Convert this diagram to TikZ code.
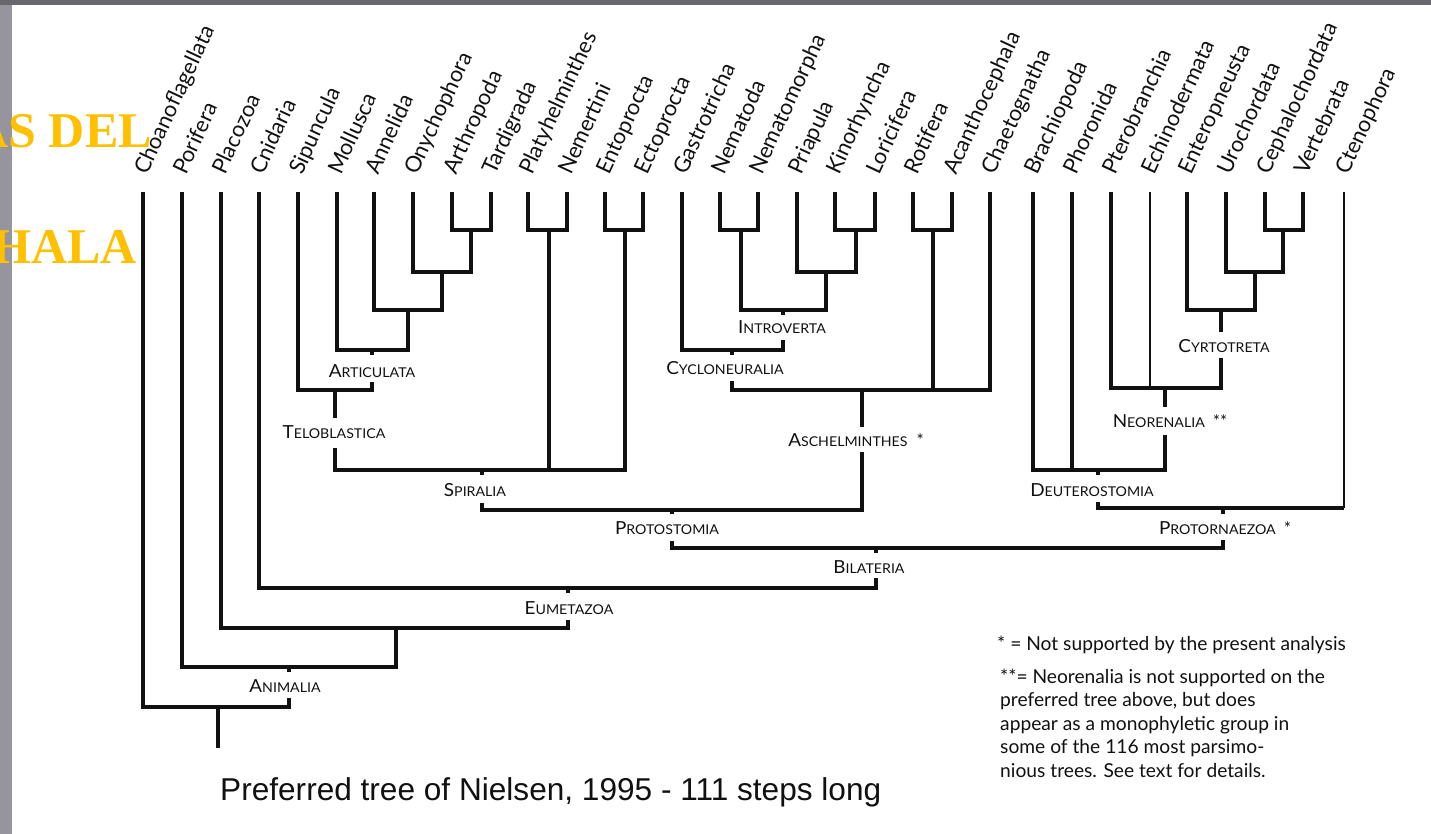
\documentclass[tikz,border=0pt]{standalone}
\usepackage{fontspec}
\setmainfont{Lato}
\newfontfamily\capfont{Liberation Sans}
\newfontfamily\ornfont{Liberation Serif}
\usepackage{graphicx}
\definecolor{gold}{RGB}{255,192,0}
\definecolor{framegray}{RGB}{150,148,156}
\definecolor{topgray}{RGB}{105,103,110}
\definecolor{ink}{RGB}{17,17,17}
\newcommand{\SCL}[2]{\scalebox{1.05}[1]{{\fontsize{18}{18}\selectfont #1}{\fontsize{13.5}{13.5}\selectfont #2}}}
\tikzset{
  br/.style={line width=3.3pt, line join=miter, draw=ink},
  thinbr/.style={line width=1.6pt, draw=ink},
  taxon/.style={anchor=base west, rotate=65, inner sep=0pt, text=ink, font=\fontsize{22}{22}\selectfont},
  clade/.style={inner sep=0pt, anchor=center, text=ink},
  legend/.style={anchor=base west, inner sep=0pt, text=ink, align=left, font=\fontsize{19.2}{23.5}\selectfont},
  orange/.style={inner sep=0pt, anchor=base east, text=gold, font=\ornfont\bfseries\fontsize{50}{50}\selectfont},
}
\begin{document}
\begin{tikzpicture}[x=1pt,y=-1pt]
\useasboundingbox (0,0) rectangle (1431,834);
\clip (0,0) rectangle (1431,834);
\fill[framegray] (0,0) rectangle (1431,834);
\fill[white] (12,5) rectangle (1431,834);
\fill[topgray] (0,0) rectangle (1431,5);

% leaves
\foreach \n/\x/\t in {cho/143/Choanoflagellata, por/182/Porifera, pla/221/Placozoa, cni/259/Cnidaria,
  sip/298/Sipuncula, mol/337/Mollusca, ann/374/Annelida, ony/413/Onychophora, art/452/Arthropoda,
  tar/491/Tardigrada, plh/528/Platyhelminthes, nmt/567/Nemertini, enp/605/Entoprocta, ect/643/Ectoprocta,
  gas/682/Gastrotricha, nem/720/Nematoda, nmm/758/Nematomorpha, pri/797/Priapula, kin/835/Kinorhyncha,
  lor/875/Loricifera, rot/913/Rotifera, aca/952/Acanthocephala, cha/990/Chaetognatha, bra/1033/Brachiopoda,
  pho/1072/Phoronida, pte/1111/Pterobranchia, ech/1150/Echinodermata, ent/1187/Enteropneusta,
  uro/1226/Urochordata, cep/1265/Cephalochordata, ver/1303/Vertebrata, cte/1344/Ctenophora}
{
  \coordinate (\n) at (\x,192);
  \node[taxon] (L\n) at (\x+4,176) {\t};
}

% clade points and labels
\coordinate (nAT) at (471,230);
\coordinate (nOAT) at (442,272);
\coordinate (nAOAT) at (408,310);
\coordinate (nArt) at (372,350);
\coordinate (tArt) at (372,355);
\node[clade] (lArt) at (372,371) {\SCL{A}{RTICULATA}};
\coordinate (sArt) at (372,382);
\coordinate (nTel) at (335,390);
\coordinate (tTel) at (335,418);
\node[clade] (lTel) at (334,432) {\SCL{T}{ELOBLASTICA}};
\coordinate (sTel) at (335,448);
\coordinate (nPN) at (549,230);
\coordinate (nEE) at (625,230);
\coordinate (nSpi) at (482,470);
\coordinate (tSpi) at (482,475);
\node[clade] (lSpi) at (475,490) {\SCL{S}{PIRALIA}};
\coordinate (sSpi) at (482,503);
\coordinate (nNN) at (741,230);
\coordinate (nKL) at (856,230);
\coordinate (nPKL) at (826,272);
\coordinate (nInt) at (783,310);
\coordinate (tInt) at (783,315);
\node[clade] (lInt) at (782,327) {\SCL{I}{NTROVERTA}};
\coordinate (sInt) at (783,340);
\coordinate (nCyc) at (732,350);
\coordinate (tCyc) at (732,355);
\node[clade] (lCyc) at (725,368) {\SCL{C}{YCLONEURALIA}};
\coordinate (sCyc) at (732,381);
\coordinate (nRA) at (933,230);
\coordinate (nAsc) at (862,390);
\coordinate (tAsc) at (862,427);
\node[clade] (lAsc) at (856,440) {\SCL{A}{SCHELMINTHES}\hspace{9pt}{\fontsize{17}{17}\selectfont *}};
\coordinate (sAsc) at (862,452);
\coordinate (nPro) at (672,510);
\coordinate (tPro) at (672,514);
\node[clade] (lPro) at (667,528) {\SCL{P}{ROTOSTOMIA}};
\coordinate (sPro) at (672,541);
\coordinate (nCV) at (1283,230);
\coordinate (nUCV) at (1255,272);
\coordinate (nCyr) at (1221,310);
\coordinate (tCyr) at (1221,332);
\node[clade] (lCyr) at (1224,346) {\SCL{C}{YRTOTRETA}};
\coordinate (sCyr) at (1221,358);
\coordinate (nNeo) at (1165,388);
\coordinate (tNeo) at (1165,407);
\node[clade] (lNeo) at (1170,421) {\SCL{N}{EORENALIA}\hspace{8pt}{\fontsize{17}{17}\selectfont **}};
\coordinate (sNeo) at (1165,435);
\coordinate (nDeu) at (1098,470);
\coordinate (tDeu) at (1098,475);
\node[clade] (lDeu) at (1092,490) {\SCL{D}{EUTEROSTOMIA}};
\coordinate (sDeu) at (1098,502);
\coordinate (cteB) at (1344,508);
\coordinate (nPtz) at (1223,508);
\coordinate (tPtz) at (1223,514);
\node[clade] (lPtz) at (1225,528) {\SCL{P}{ROTORNAEZOA}\hspace{8pt}{\fontsize{17}{17}\selectfont *}};
\coordinate (sPtz) at (1223,540);
\coordinate (nBil) at (876,548);
\coordinate (tBil) at (876,553);
\node[clade] (lBil) at (869,567) {\SCL{B}{ILATERIA}};
\coordinate (sBil) at (876,578);
\coordinate (nEum) at (568,588);
\coordinate (tEum) at (568,593);
\node[clade] (lEum) at (569,608) {\SCL{E}{UMETAZOA}};
\coordinate (sEum) at (568,620);
\coordinate (nPE) at (396,628);
\coordinate (nAni) at (289,667);
\coordinate (tAni) at (289,672);
\node[clade] (lAni) at (285,686) {\SCL{A}{NIMALIA}};
\coordinate (sAni) at (289,698);
\coordinate (nRoot) at (218,707);
\coordinate (rootEnd) at (218,748);

% branches
\draw[br] (art) |- (nAT) -| (tar);
\draw[br] (ony) |- (nOAT) -| (nAT);
\draw[br] (ann) |- (nAOAT) -| (nOAT);
\draw[br] (mol) |- (nArt) -| (nAOAT);
\draw[br] (nArt) -- (tArt);
\draw[br] (sip) |- (nTel) -| (sArt);
\draw[br] (nTel) -- (tTel);
\draw[br] (plh) |- (nPN) -| (nmt);
\draw[br] (enp) |- (nEE) -| (ect);
\draw[br] (sTel) |- (nSpi) -| (nEE);
\draw[br] (nPN) -- (nPN |- nSpi);
\draw[br] (nSpi) -- (tSpi);
\draw[br] (nem) |- (nNN) -| (nmm);
\draw[br] (kin) |- (nKL) -| (lor);
\draw[br] (pri) |- (nPKL) -| (nKL);
\draw[br] (nNN) |- (nInt) -| (nPKL);
\draw[br] (nInt) -- (tInt);
\draw[br] (gas) |- (nCyc) -| (sInt);
\draw[br] (nCyc) -- (tCyc);
\draw[br] (rot) |- (nRA) -| (aca);
\draw[br] (sCyc) |- (nAsc) -| (cha);
\draw[br] (nRA) -- (nRA |- nAsc);
\draw[br] (nAsc) -- (tAsc);
\draw[br] (sSpi) |- (nPro) -| (sAsc);
\draw[br] (nPro) -- (tPro);
\draw[br] (cep) |- (nCV) -| (ver);
\draw[br] (uro) |- (nUCV) -| (nCV);
\draw[br] (ent) |- (nCyr) -| (nUCV);
\draw[br] (nCyr) -- (tCyr);
\draw[br] (pte) |- (nNeo) -| (sCyr);
\draw[thinbr] (ech) -- (ech |- nNeo);
\draw[br] (nNeo) -- (tNeo);
\draw[br] (bra) |- (nDeu) -| (sNeo);
\draw[br] (pho) -- (pho |- nDeu);
\draw[br] (nDeu) -- (tDeu);
\draw[br] (sDeu) |- (cteB);
\draw[thinbr] (cte) -- (cteB);
\draw[br] (nPtz) -- (tPtz);
\draw[br] (sPro) |- (nBil) -| (sPtz);
\draw[br] (nBil) -- (tBil);
\draw[br] (cni) |- (nEum) -| (sBil);
\draw[br] (nEum) -- (tEum);
\draw[br] (pla) |- (nPE) -| (sEum);
\draw[br] (por) |- (nAni) -| (nPE);
\draw[br] (nAni) -- (tAni);
\draw[br] (cho) |- (nRoot) -| (sAni);
\draw[br] (nRoot) -- (rootEnd);

% legend and caption
\node[legend] (leg1) at (997,650) {* = Not supported by the present analysis};
\node[legend] (leg2) at (1000,777)
  {**= Neorenalia is not supported on the\\preferred tree above, but does\\appear as a monophyletic group in\\some of the 116 most parsimo-\\nious trees. See text for details.};
\node[anchor=base west, inner sep=0pt, text=ink, font=\capfont\fontsize{31.6}{31.6}\selectfont] (cap) at (220,800)
  {Preferred tree of Nielsen, 1995 - 111 steps long};

% orange slide title fragments
\node[orange] (o1) at (152,148) {AS DEL};
\node[orange] (o2) at (137,263) {HALA};
\end{tikzpicture}
\end{document}
